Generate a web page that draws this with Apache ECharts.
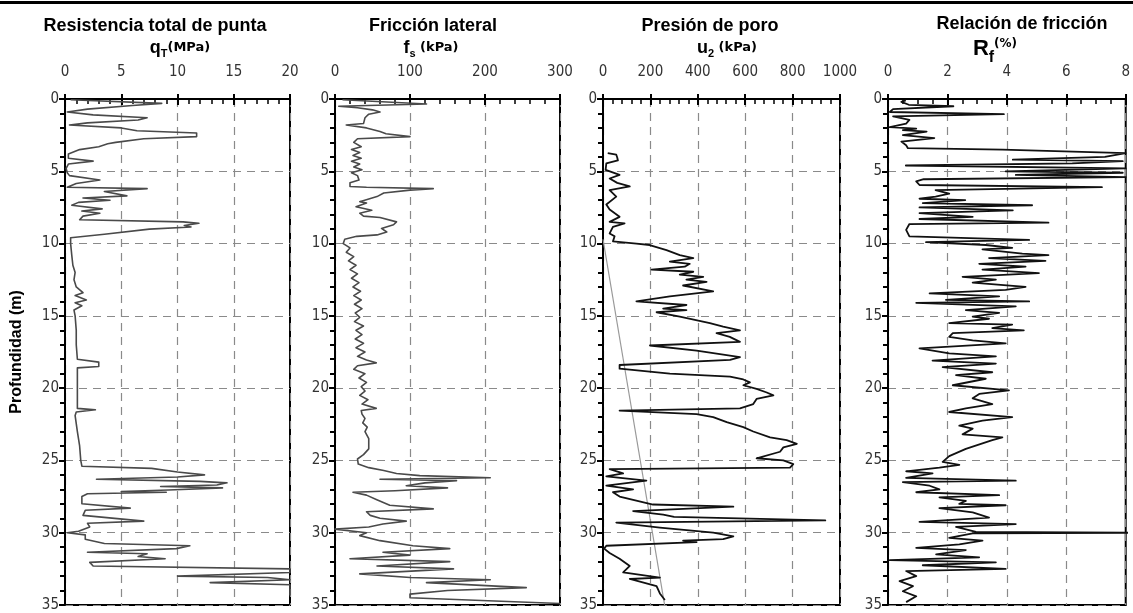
<!DOCTYPE html>
<html>
<head>
<meta charset="utf-8">
<script src="https://cdn.jsdelivr.net/npm/echarts@6/dist/echarts.min.js"></script>
<style>
  html, body { margin: 0; padding: 0; background: #fff; }
  #chart { width: 1133px; height: 613px; }
</style>
</head>
<body>
<div id="chart"></div>
<script>
// Sondeo CPTu: profundidad (m) y lecturas de cada panel

// Resistencia total de punta qT (MPa)
const qtDepth = [0.05, 0.3, 0.45, 0.7, 0.9, 1.1, 1.3, 1.45, 1.65, 1.8, 2.0, 2.2, 2.35, 2.6, 2.75, 3.0, 3.1, 3.3, 3.5, 3.8,
  4.1, 4.3, 4.5, 4.8, 5.1, 5.3, 5.6, 5.85, 6.1, 6.2, 6.4, 6.7, 6.85, 7.0, 7.15, 7.35, 7.6, 7.75, 7.9, 8.1,
  8.35, 8.5, 8.6, 8.75, 8.85, 9.0, 9.35, 9.6, 10.0, 10.8, 11.5, 12.0, 12.5, 13.0, 13.4, 13.6, 13.9, 14.1, 14.3, 14.6,
  15.0, 16.0, 17.0, 18.0, 18.2, 18.5, 18.6, 19.5, 20.5, 21.4, 21.5, 21.65, 21.9, 23.0, 24.0, 25.0, 25.4, 25.55, 25.8, 26.0,
  26.15, 26.3, 26.45, 26.55, 26.7, 26.8, 26.9, 27.05, 27.15, 27.2, 27.3, 27.5, 28.0, 28.3, 28.45, 28.8, 29.2, 29.35, 29.6, 29.9,
  30.0, 30.15, 30.45, 30.75, 30.9, 31.1, 31.35, 31.45, 31.65, 31.8, 32.05, 32.3, 32.5, 32.75, 33.0, 33.1, 33.25, 33.45, 33.6, 34.1, 34.35];
const qtValue = [0.5, 8.6, 6.0, 2.0, 0.2, 2.5, 7.3, 6.5, 2.0, 0.4, 5.0, 6.4, 11.7, 11.7, 7.0, 4.5, 3.8, 3.0, 1.3, 0.3,
  0.3, 2.5, 0.3, 0.1, 0.2, 0.4, 3.1, 1.0, 0.2, 7.3, 3.5, 5.5, 1.6, 4.0, 1.2, 0.6, 3.3, 1.5, 3.1, 1.6,
  1.3, 10.5, 11.9, 10.6, 11.2, 7.5, 3.5, 0.5, 0.5, 0.6, 0.7, 0.9, 0.8, 1.0, 1.6, 0.9, 1.9, 0.9, 1.5, 0.8,
  0.9, 1.0, 1.0, 1.1, 3.0, 3.0, 1.1, 1.1, 1.1, 1.1, 2.7, 1.0, 0.9, 1.1, 1.3, 1.4, 1.5, 7.7, 10.0, 12.4,
  10.0, 2.8, 12.0, 14.4, 13.5, 8.5, 14.0, 9.2, 5.0, 9.0, 2.0, 1.5, 1.5, 5.8, 1.8, 1.6, 7.0, 2.0, 2.2, 1.2,
  0.2, 1.8, 1.8, 3.5, 11.1, 9.9, 2.0, 7.3, 6.5, 8.9, 2.2, 2.5, 20, 20, 10.0, 18, 20, 12.9, 20, 20, 20];

// Fricción lateral fs (kPa)
const fsDepth = [0.05, 0.35, 0.5, 0.6, 0.75, 0.9, 1.05, 1.3, 1.7, 1.8, 2.0, 2.25, 2.4, 2.6, 2.75, 3.0, 3.3, 3.5, 3.7, 3.9,
  4.1, 4.3, 4.5, 4.7, 4.9, 5.1, 5.3, 5.6, 5.8, 6.05, 6.1, 6.2, 6.3, 6.5, 6.75, 7.1, 7.2, 7.45, 7.7, 7.9,
  8.1, 8.2, 8.5, 8.7, 8.95, 9.2, 9.4, 9.5, 9.7, 10.0, 10.3, 10.6, 10.9, 11.2, 11.5, 11.8, 12.1, 12.4, 12.7, 13.0,
  13.3, 13.6, 13.9, 14.2, 14.5, 14.8, 15.1, 15.4, 15.7, 16.0, 16.3, 16.6, 16.9, 17.2, 17.5, 17.8, 18.05, 18.25, 18.45, 18.7,
  19.0, 19.3, 19.6, 19.9, 20.2, 20.5, 20.8, 21.1, 21.4, 21.55, 21.8, 22.1, 22.4, 22.7, 23.0, 23.5, 24.2, 24.6, 24.9, 25.25,
  25.5, 25.7, 25.9, 26.05, 26.2, 26.3, 26.4, 26.55, 26.75, 26.9, 27.0, 27.1, 27.2, 27.4, 27.7, 28.1, 28.35, 28.55, 28.8, 29.0,
  29.2, 29.4, 29.6, 29.75, 30.0, 30.2, 30.55, 30.9, 31.1, 31.35, 31.55, 31.8, 32.0, 32.3, 32.5, 32.85, 33.1, 33.25, 33.45, 33.8,
  34.0, 34.25, 34.5, 34.9];
const fsValue = [10, 122, 5, 30, 50, 60, 45, 40, 38, 15, 42, 60, 68, 100, 30, 25, 35, 22, 33, 24,
  35, 22, 33, 25, 36, 22, 30, 32, 20, 20, 42, 131, 100, 65, 56, 33, 42, 28, 49, 33,
  38, 60, 82, 78, 62, 69, 56, 29, 13, 11, 20, 15, 25, 18, 28, 20, 30, 22, 32, 24,
  34, 25, 35, 26, 36, 27, 33, 26, 38, 28, 36, 27, 38, 28, 40, 30, 42, 55, 30, 25,
  40, 32, 42, 35, 40, 33, 44, 36, 55, 35, 36, 40, 37, 43, 40, 45, 45, 38, 30, 31,
  45, 65, 82, 113, 207, 60, 162, 120, 95, 150, 149, 80, 24, 42, 55, 73, 131, 42, 47, 60,
  95, 64, 45, 0, 42, 33, 60, 104, 153, 64, 100, 20, 153, 56, 158, 33, 100, 207, 122, 255,
  150, 100, 100, 300];

// Presión de poro u2 (kPa)
const u2Depth = [3.75, 3.85, 4.05, 4.25, 4.45, 4.9, 5.25, 5.5, 5.8, 6.05, 6.3, 6.75, 7.3, 7.65, 8.15, 8.5, 8.6, 8.85, 9.3, 9.5,
  9.85, 10.0, 10.1, 10.45, 10.8, 11.0, 11.25, 11.4, 11.6, 11.8, 11.95, 12.15, 12.3, 12.5, 12.65, 12.9, 13.3, 13.65, 14.0, 14.25,
  14.5, 14.6, 14.75, 15.05, 15.5, 15.75, 16.0, 16.2, 16.45, 16.8, 17.05, 17.4, 17.85, 18.05, 18.4, 18.65, 19.0, 19.2, 19.4, 19.6,
  19.8, 20.05, 20.3, 20.5, 20.75, 21.1, 21.4, 21.55, 21.8, 22.0, 22.35, 22.7, 23.0, 23.4, 23.6, 23.85, 24.1, 24.4, 24.85, 25.0,
  25.25, 25.5, 25.6, 25.9, 26.1, 26.4, 26.75, 27.0, 27.2, 27.5, 28.05, 28.2, 28.5, 28.75, 28.9, 29.15, 29.3, 29.65, 30.0, 30.25,
  30.45, 30.55, 30.65, 30.9, 31.1, 31.4, 31.8, 32.3, 32.75, 33.1, 33.2, 33.7, 34.2, 34.65];
const u2Value = [20, 56, 60, 63, 14, 11, 70, 28, 60, 113, 28, 56, 14, 28, 70, 28, 91, 42, 28, 49,
  42, 141, 197, 268, 324, 381, 282, 366, 345, 205, 381, 324, 423, 352, 437, 338, 465, 282, 141, 352,
  254, 352, 226, 324, 451, 507, 578, 479, 535, 578, 198, 395, 578, 536, 70, 70, 282, 536, 592, 620,
  592, 648, 691, 719, 648, 634, 578, 70, 395, 465, 522, 592, 634, 705, 775, 818, 761, 747, 648, 761,
  803, 789, 28, 85, 14, 183, 14, 127, 42, 70, 211, 550, 127, 254, 300, 938, 56, 240, 465, 550,
  507, 338, 395, 14, 5, 28, 70, 113, 85, 240, 113, 226, 240, 261];
// Presión hidrostática (línea gris)
const u0Depth = [9.7, 35];
const u0Value = [0, 260];

// Relación de fricción Rf (%)
const rfDepth = [0.1, 0.2, 0.4, 0.5, 0.7, 0.9, 1.05, 1.2, 1.45, 1.7, 1.95, 2.05, 2.15, 2.25, 2.5, 2.7, 2.95, 3.2, 3.4, 3.5,
  3.75, 4.0, 4.2, 4.3, 4.45, 4.6, 4.8, 5.0, 5.1, 5.25, 5.4, 5.55, 5.7, 5.95, 6.1, 6.3, 6.55, 6.75, 6.9, 7.0,
  7.2, 7.35, 7.5, 7.7, 7.9, 8.15, 8.3, 8.55, 8.65, 9.05, 9.5, 9.75, 9.9, 10.1, 10.3, 10.4, 10.7, 10.8, 11.0, 11.2,
  11.4, 11.6, 11.8, 12.05, 12.3, 12.5, 12.7, 13.0, 13.2, 13.45, 13.65, 13.9, 14.0, 14.1, 14.35, 14.6, 14.8, 15.05, 15.2, 15.5,
  15.6, 15.85, 16.0, 16.2, 16.45, 16.7, 16.9, 17.25, 17.6, 17.8, 18.1, 18.3, 18.55, 18.9, 19.1, 19.35, 19.8, 20.15, 20.4, 20.7,
  21.1, 21.4, 21.65, 22.0, 22.25, 22.6, 22.8, 23.2, 23.4, 23.6, 24.2, 24.7, 25.1, 25.3, 25.5, 25.75, 25.9, 26.2, 26.4, 26.5,
  26.75, 27.0, 27.2, 27.4, 27.55, 27.8, 28.0, 28.1, 28.3, 28.6, 28.95, 29.25, 29.4, 29.6, 29.95, 30.0, 30.05, 30.35, 30.55, 30.8,
  31.05, 31.2, 31.5, 31.7, 31.9, 32.05, 32.25, 32.5, 32.65, 33.0, 33.35, 33.7, 34.05, 34.4, 34.8];
const rfValue = [0.6, 0.45, 0.7, 2.2, 0.17, 0.06, 3.9, 0.17, 0.72, 0.61, 0.06, 0.95, 0.5, 1.3, 0.5, 1.56, 0.45, 0.61, 0.67, 3.85,
  8.0, 7.3, 4.2, 7.9, 6.2, 0.6, 8.0, 3.96, 7.9, 4.3, 8.0, 1.2, 0.95, 1.06, 7.2, 1.6, 2.06, 1.6, 1.06, 2.6,
  1.17, 4.85, 1.06, 4.2, 1.06, 2.85, 1.06, 5.4, 0.72, 0.61, 0.72, 4.75, 1.28, 3.29, 4.18, 3.18, 4.52, 5.4, 3.4, 5.3,
  3.07, 4.63, 3.18, 5.08, 2.51, 3.63, 2.85, 4.63, 3.96, 1.4, 3.74, 1.95, 4.75, 0.95, 4.3, 2.62, 3.74, 2.85, 3.4, 2.06,
  4.18, 3.51, 4.57, 2.18, 2.06, 2.85, 3.96, 1.06, 2.06, 3.63, 1.5, 3.63, 1.84, 3.51, 2.29, 3.29, 2.18, 4.07, 3.07, 2.85,
  3.51, 2.62, 2.06, 4.18, 3.18, 2.4, 2.85, 2.51, 3.85, 3.51, 2.62, 2.06, 1.84, 2.4, 1.73, 0.61, 1.5, 0.61, 4.3, 0.5,
  1.4, 1.73, 0.95, 3.74, 1.73, 2.62, 2.4, 3.96, 1.73, 2.85, 3.4, 1.06, 4.3, 2.29, 2.96, 8.2, 2.85, 2.06, 3.18, 2.4,
  0.95, 2.62, 1.62, 3.07, 0.06, 3.63, 1.17, 3.96, 0.61, 0.95, 0.39, 0.84, 0.5, 0.95, 0.61];

// Ejes superiores (máximo, intervalo, subdivisiones)
const xMax = [20, 300, 1000, 8];
const xInterval = [5, 100, 200, 2];
const xMinorSplit = [5, 5, 5, 4];
const depthMax = 35;

const zip = (depth, value) => depth.map((d, i) => [value[i], d]);

const chart = echarts.init(document.getElementById('chart'));

// Posición de cada panel (px)
const panels = [
  { left: 65, width: 225 },
  { left: 335, width: 225 },
  { left: 603, width: 237 },
  { left: 888, width: 239 }
];
const TOP = 99;
const HEIGHT = 506;

const dash = { color: '#8a8a8a', width: 1.2, type: [8, 6] };
const labelFont = { fontFamily: 'DejaVu Sans Condensed, DejaVu Sans', fontSize: 15, color: '#333' };

const grids = [], xAxes = [], yAxes = [];
panels.forEach((p, i) => {
  grids.push({
    left: p.left, top: TOP, width: p.width, height: HEIGHT,
    show: true, borderColor: '#000', borderWidth: 2, backgroundColor: 'transparent'
  });
  // eje principal con marcas menores hacia dentro
  xAxes.push({
    gridIndex: i, type: 'value', position: 'top', min: 0, max: xMax[i], interval: xInterval[i],
    axisLine: { show: true, lineStyle: { color: '#000', width: 2 } },
    axisTick: { show: true, inside: true, length: 6, lineStyle: { color: '#000', width: 2 } },
    minorTick: { show: true, splitNumber: xMinorSplit[i], length: 5, lineStyle: { color: '#000', width: 1.5 } },
    axisLabel: Object.assign({ margin: 19, formatter: v => String(v) }, labelFont),
    splitLine: { show: true, lineStyle: dash }
  });
  // marcas mayores hacia fuera
  xAxes.push({
    gridIndex: i, type: 'value', position: 'top', min: 0, max: xMax[i], interval: xInterval[i],
    axisLine: { show: false },
    axisTick: { show: true, inside: false, length: 5, lineStyle: { color: '#000', width: 2 } },
    axisLabel: { show: false }, splitLine: { show: false }
  });
  yAxes.push({
    gridIndex: i, type: 'value', inverse: true, min: 0, max: depthMax, interval: 5,
    axisLine: { show: true, lineStyle: { color: '#000', width: 2 } },
    axisTick: { show: true, inside: false, length: 6, lineStyle: { color: '#000', width: 2 } },
    axisLabel: Object.assign({ margin: 6 }, labelFont),
    splitLine: { show: true, lineStyle: dash },
    name: i === 0 ? 'Profundidad (m)' : '',
    nameLocation: 'middle', nameRotate: 90, nameGap: 40,
    nameTextStyle: { fontFamily: 'Liberation Sans', fontWeight: 'bold', fontSize: 16, color: '#000' }
  });
  // marcas menores hacia dentro en profundidad
  yAxes.push({
    gridIndex: i, type: 'value', inverse: true, min: 0, max: depthMax, interval: 5,
    axisLine: { show: false },
    axisTick: { show: true, inside: true, length: 3, lineStyle: { color: '#000', width: 2 } },
    minorTick: { show: true, splitNumber: 5, length: 5, lineStyle: { color: '#000', width: 2 } },
    axisLabel: { show: false }, splitLine: { show: false }
  });
});

const mkLine = (i, data, color, width) => ({
  type: 'line', xAxisIndex: i * 2, yAxisIndex: i * 2, data: data,
  showSymbol: false, symbol: 'none', clip: true, animation: false,
  lineStyle: { color: color, width: width, join: 'round' }
});

const titleStyle = { fontFamily: 'Liberation Sans', fontWeight: 'bold', fontSize: 18, color: '#000' };
const subRich = {
  m: { fontFamily: 'Liberation Sans', fontWeight: 'bold', fontSize: 18, color: '#000' },
  s: { fontFamily: 'Liberation Sans', fontWeight: 'bold', fontSize: 11, color: '#000', padding: [11, 0, 0, 0] },
  u: { fontFamily: 'DejaVu Sans', fontWeight: 'bold', fontSize: 13, color: '#000' },
  big: { fontFamily: 'Liberation Sans', fontSize: 22, color: '#000' },
  f: { fontFamily: 'Liberation Sans', fontWeight: 'bold', fontSize: 16, color: '#000', padding: [18, 0, 0, 0] },
  pc: { fontFamily: 'DejaVu Sans', fontWeight: 'bold', fontSize: 12, color: '#000', padding: [0, 0, 10, 0] }
};

const option = {
  backgroundColor: '#fff',
  animation: false,
  grid: grids,
  xAxis: xAxes,
  yAxis: yAxes,
  title: [
    { text: 'Resistencia total de punta', left: 150, top: 12, textAlign: 'center', textStyle: titleStyle },
    { text: 'Fricción lateral', left: 428, top: 12, textAlign: 'center', textStyle: titleStyle },
    { text: 'Presión de poro', left: 705, top: 12, textAlign: 'center', textStyle: titleStyle },
    { text: 'Relación de fricción', left: 1017, top: 10, textAlign: 'center', textStyle: titleStyle },
    { text: '{m|q}{s|T}{u|(MPa)}', left: 175, top: 32, textAlign: 'center', textStyle: { rich: subRich } },
    { text: '{m|f}{s|s}{u| (kPa)}', left: 426, top: 32, textAlign: 'center', textStyle: { rich: subRich } },
    { text: '{m|u}{s|2}{u| (kPa)}', left: 722, top: 32, textAlign: 'center', textStyle: { rich: subRich } },
    { text: '{big|R}{f|f}{pc|(%)}', left: 990, top: 27, textAlign: 'center', textStyle: { rich: subRich } }
  ],
  graphic: [
    { type: 'rect', shape: { x: 0, y: 1, width: 1133, height: 3 }, style: { fill: '#000' } }
  ],
  series: [
    mkLine(0, zip(qtDepth, qtValue), '#4a4a4a', 1.6),
    mkLine(1, zip(fsDepth, fsValue), '#4a4a4a', 1.6),
    mkLine(2, zip(u0Depth, u0Value), '#999', 1.2),
    mkLine(2, zip(u2Depth, u2Value), '#111', 1.8),
    mkLine(3, zip(rfDepth, rfValue), '#111', 1.8)
  ]
};

chart.setOption(option);
</script>
</body>
</html>
